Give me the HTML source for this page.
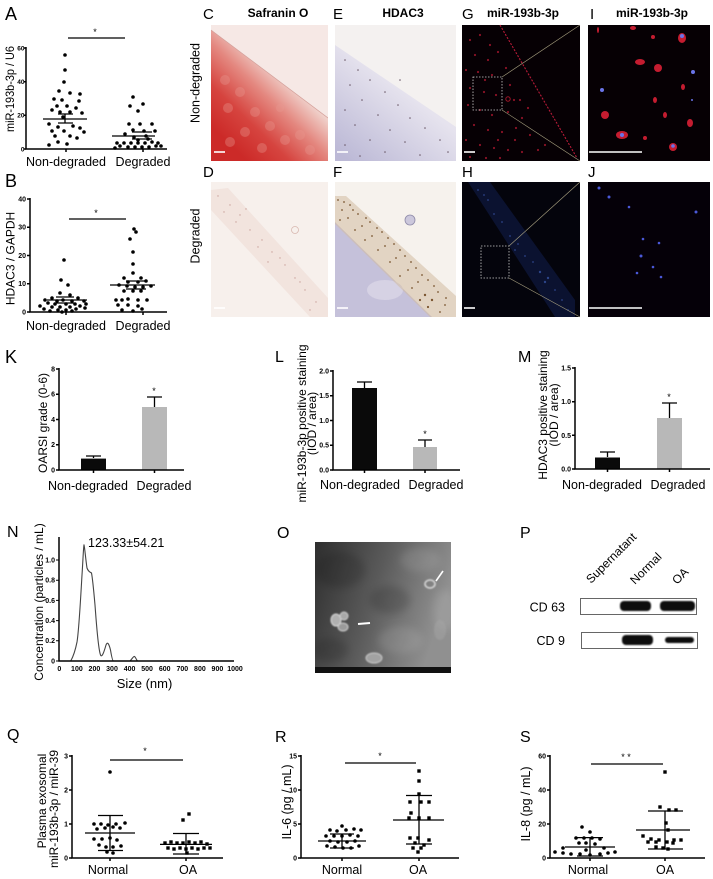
<!DOCTYPE html>
<html><head><meta charset="utf-8"><style>
html,body{margin:0;padding:0;background:#fff;}
svg{display:block;font-family:"Liberation Sans",Arial,sans-serif;}
.t{font-size:7px;font-weight:bold;text-anchor:end;}
.xl{font-size:12.5px;text-anchor:middle;}
.yl{font-size:12px;text-anchor:middle;}
.pl{font-size:16px;}
.pb{font-size:18px;}
.hd{font-size:12px;font-weight:bold;text-anchor:middle;}
.ax{stroke:#000;stroke-width:1.5;fill:none;}
.ln{stroke:#000;stroke-width:1.3;fill:none;}
</style></head><body>
<svg width="713" height="879" viewBox="0 0 713 879" xmlns="http://www.w3.org/2000/svg">
<defs>
<linearGradient id="gC" gradientUnits="userSpaceOnUse" x1="285" y1="78" x2="225" y2="140"><stop offset="0" stop-color="#f0d2cc"/><stop offset="0.3" stop-color="#e48880"/><stop offset="0.65" stop-color="#d6443f"/><stop offset="1" stop-color="#cc2a28"/></linearGradient>
<linearGradient id="gE" gradientUnits="userSpaceOnUse" x1="400" y1="88" x2="345" y2="158"><stop offset="0" stop-color="#e6e3ee"/><stop offset="1" stop-color="#bcb9d6"/></linearGradient>
<linearGradient id="gO" x1="0" y1="0" x2="1" y2="0.3"><stop offset="0" stop-color="#2e2e2e"/><stop offset="0.5" stop-color="#5a5a5a"/><stop offset="1" stop-color="#909090"/></linearGradient>
<filter id="bl"><feGaussianBlur stdDeviation="0.7"/></filter>
<filter id="bl2"><feGaussianBlur stdDeviation="4"/></filter>
<clipPath id="cC"><rect x="211" y="25" width="117" height="136"/></clipPath>
<clipPath id="cE"><rect x="335" y="25" width="121" height="136"/></clipPath>
<clipPath id="cD"><rect x="211" y="182" width="117" height="135"/></clipPath>
<clipPath id="cF"><rect x="335" y="182" width="121" height="135"/></clipPath>
<clipPath id="cH"><rect x="462" y="182" width="118" height="135"/></clipPath>
<clipPath id="cO"><rect x="315" y="542" width="136" height="131"/></clipPath>
</defs>

<!-- ============ Panel A ============ -->
<text class="pb" x="5" y="20">A</text>
<text transform="translate(14,89) rotate(-90)" style="font-size:12px;text-anchor:middle" textLength="86" lengthAdjust="spacingAndGlyphs">miR-193b-3p / U6</text>
<path class="ax" d="M26,47 V149 H167"/>
<path class="ax" d="M24,48H26M24,81.7H26M24,115.3H26M24,149H26M66,149V152M143,149V152"/>
<g style="font-size:6.5px;font-weight:bold;text-anchor:end">
<text x="24.5" y="50.5">60</text><text x="24.5" y="84">40</text><text x="24.5" y="117.5">20</text><text x="24.5" y="151.5">0</text>
</g>
<text class="xl" x="66" y="166">Non-degraded</text><text class="xl" x="143" y="166">Degraded</text>
<path class="ln" d="M68,38H125"/><text x="95" y="35" style="font-size:9px;text-anchor:middle">*</text>
<g fill="#000">
<circle cx="65" cy="55" r="1.8"/><circle cx="65" cy="70" r="1.8"/><circle cx="64" cy="82" r="1.8"/><circle cx="59" cy="91" r="1.8"/><circle cx="70" cy="93" r="1.8"/><circle cx="80" cy="94" r="1.8"/><circle cx="54" cy="99" r="1.8"/><circle cx="62" cy="100" r="1.8"/><circle cx="79" cy="101" r="1.8"/><circle cx="57" cy="106" r="1.8"/><circle cx="67" cy="106" r="1.8"/><circle cx="76" cy="108" r="1.8"/><circle cx="52" cy="110" r="1.8"/><circle cx="60" cy="112" r="1.8"/><circle cx="70" cy="112" r="1.8"/><circle cx="82" cy="113" r="1.8"/><circle cx="63" cy="117" r="1.8"/><circle cx="49" cy="124" r="1.8"/><circle cx="58" cy="127" r="1.8"/><circle cx="73" cy="126" r="1.8"/><circle cx="80" cy="128" r="1.8"/><circle cx="52" cy="131" r="1.8"/><circle cx="64" cy="131" r="1.8"/><circle cx="84" cy="132" r="1.8"/><circle cx="55" cy="136" r="1.8"/><circle cx="70" cy="136" r="1.8"/><circle cx="77" cy="138" r="1.8"/><circle cx="58" cy="142" r="1.8"/><circle cx="67" cy="144" r="1.8"/><circle cx="49" cy="145" r="1.8"/>
<circle cx="133" cy="97" r="1.8"/><circle cx="130" cy="106" r="1.8"/><circle cx="143" cy="104" r="1.8"/><circle cx="138" cy="111" r="1.8"/><circle cx="129" cy="124" r="1.8"/><circle cx="140" cy="124" r="1.8"/><circle cx="152" cy="124" r="1.8"/><circle cx="133" cy="130" r="1.8"/><circle cx="144" cy="131" r="1.8"/><circle cx="155" cy="131" r="1.8"/><circle cx="125" cy="134" r="1.8"/><circle cx="134" cy="137" r="1.8"/><circle cx="146" cy="136" r="1.8"/><circle cx="117" cy="143" r="1.8"/><circle cx="124" cy="143" r="1.8"/><circle cx="131" cy="143" r="1.8"/><circle cx="138" cy="143" r="1.8"/><circle cx="145" cy="143" r="1.8"/><circle cx="152" cy="142" r="1.8"/><circle cx="158" cy="143" r="1.8"/><circle cx="120" cy="146" r="1.8"/><circle cx="128" cy="147" r="1.8"/><circle cx="135" cy="147" r="1.8"/><circle cx="142" cy="147" r="1.8"/><circle cx="149" cy="147" r="1.8"/><circle cx="156" cy="146" r="1.8"/><circle cx="115" cy="148" r="1.8"/><circle cx="161" cy="146" r="1.8"/><circle cx="138" cy="140" r="1.8"/><circle cx="148" cy="139" r="1.8"/>
</g>
<path class="ln" d="M43,119H87M58,114H73M58,123H73M65,114V123M112,136H155M132,132H152M132,139H152"/>

<!-- ============ Panel B ============ -->
<text class="pb" x="5" y="187">B</text>
<text class="yl" transform="translate(14.5,258.5) rotate(-90)">HDAC3 / GAPDH</text>
<path class="ax" d="M30,198 V312 H167"/>
<path class="ax" d="M27,199H30M27,227.25H30M27,255.5H30M27,283.75H30M27,312H30M66,312V315M143,312V315"/>
<text class="t" x="26" y="201.5">40</text><text class="t" x="26" y="229.5">30</text><text class="t" x="26" y="258">20</text><text class="t" x="26" y="286">10</text><text class="t" x="26" y="314.5">0</text>
<text class="xl" x="66" y="330">Non-degraded</text><text class="xl" x="143" y="330">Degraded</text>
<path class="ln" d="M69,219H126"/><text x="96" y="216" style="font-size:9px;text-anchor:middle">*</text>
<g fill="#000">
<circle cx="64" cy="260" r="1.8"/><circle cx="61" cy="280" r="1.8"/><circle cx="68" cy="285" r="1.8"/><circle cx="60" cy="293" r="1.8"/><circle cx="70" cy="295" r="1.8"/><circle cx="52" cy="298" r="1.8"/><circle cx="78" cy="298" r="1.8"/><circle cx="45" cy="300" r="1.8"/><circle cx="57" cy="301" r="1.8"/><circle cx="63" cy="300" r="1.8"/><circle cx="72" cy="301" r="1.8"/><circle cx="84" cy="301" r="1.8"/><circle cx="48" cy="303" r="1.8"/><circle cx="55" cy="304" r="1.8"/><circle cx="66" cy="304" r="1.8"/><circle cx="75" cy="304" r="1.8"/><circle cx="86" cy="304" r="1.8"/><circle cx="40" cy="306" r="1.8"/><circle cx="52" cy="307" r="1.8"/><circle cx="60" cy="307" r="1.8"/><circle cx="70" cy="307" r="1.8"/><circle cx="80" cy="306" r="1.8"/><circle cx="44" cy="309" r="1.8"/><circle cx="58" cy="310" r="1.8"/><circle cx="66" cy="310" r="1.8"/><circle cx="76" cy="309" r="1.8"/><circle cx="85" cy="308" r="1.8"/><circle cx="50" cy="311" r="1.8"/><circle cx="62" cy="312" r="1.8"/><circle cx="72" cy="311" r="1.8"/>
<circle cx="134" cy="229" r="1.8"/><circle cx="136" cy="232" r="1.8"/><circle cx="130" cy="239" r="1.8"/><circle cx="133" cy="252" r="1.8"/><circle cx="133" cy="264" r="1.8"/><circle cx="133" cy="273" r="1.8"/><circle cx="124" cy="278" r="1.8"/><circle cx="141" cy="278" r="1.8"/><circle cx="128" cy="282" r="1.8"/><circle cx="138" cy="282" r="1.8"/><circle cx="146" cy="281" r="1.8"/><circle cx="119" cy="285" r="1.8"/><circle cx="127" cy="286" r="1.8"/><circle cx="135" cy="287" r="1.8"/><circle cx="143" cy="287" r="1.8"/><circle cx="151" cy="286" r="1.8"/><circle cx="124" cy="291" r="1.8"/><circle cx="133" cy="291" r="1.8"/><circle cx="141" cy="291" r="1.8"/><circle cx="116" cy="300" r="1.8"/><circle cx="122" cy="300" r="1.8"/><circle cx="128" cy="299" r="1.8"/><circle cx="138" cy="300" r="1.8"/><circle cx="147" cy="300" r="1.8"/><circle cx="118" cy="305" r="1.8"/><circle cx="128" cy="305" r="1.8"/><circle cx="138" cy="306" r="1.8"/><circle cx="122" cy="310" r="1.8"/><circle cx="133" cy="311" r="1.8"/><circle cx="142" cy="309" r="1.8"/>
</g>
<path class="ln" d="M47,300H87M56,297H74M56,303H74M110,285H155M126,281H146M126,289H146"/>

<!-- ============ Histology C-J ============ -->
<text x="203" y="19" style="font-size:15px">C</text><text x="333" y="19" style="font-size:15px">E</text><text x="462" y="19" style="font-size:15px">G</text><text x="590" y="19" style="font-size:15px">I</text>
<text x="203" y="177" style="font-size:15px">D</text><text x="333" y="177" style="font-size:15px">F</text><text x="462" y="177" style="font-size:15px">H</text><text x="588" y="177" style="font-size:15px">J</text>
<text class="hd" x="278" y="17">Safranin O</text><text class="hd" x="403" y="17">HDAC3</text><text class="hd" x="523" y="17">miR-193b-3p</text><text class="hd" x="652" y="17">miR-193b-3p</text>
<text transform="translate(199.5,83) rotate(-90)" style="font-size:12.5px;text-anchor:middle">Non-degraded</text>
<text transform="translate(199.5,236) rotate(-90)" style="font-size:12.5px;text-anchor:middle">Degraded</text>

<!-- C -->
<g clip-path="url(#cC)">
<rect x="211" y="25" width="117" height="136" fill="#f6e8e5"/>
<polygon points="211,30 328,118 328,161 211,161" fill="url(#gC)"/>
<g fill="#e99a92" opacity="0.35">
<circle cx="225" cy="80" r="5"/><circle cx="240" cy="92" r="5"/><circle cx="228" cy="108" r="5"/><circle cx="255" cy="112" r="5"/><circle cx="270" cy="126" r="5"/><circle cx="245" cy="132" r="5"/><circle cx="285" cy="140" r="5"/><circle cx="300" cy="135" r="5"/><circle cx="262" cy="148" r="5"/><circle cx="230" cy="142" r="5"/><circle cx="310" cy="150" r="5"/><circle cx="280" cy="108" r="4"/>
</g>
<line x1="211" y1="30" x2="328" y2="118" stroke="#d4a09a" stroke-width="0.7"/>
<line x1="214" y1="152" x2="225" y2="152" stroke="#fff" stroke-width="1.6"/>
</g>
<!-- E -->
<g clip-path="url(#cE)">
<rect x="335" y="25" width="121" height="136" fill="#f4f1f0"/>
<polygon points="335,45 456,127 456,161 335,161" fill="url(#gE)"/>
<g fill="#6a5868">
<circle cx="345" cy="60" r="0.8"/><circle cx="358" cy="70" r="0.8"/><circle cx="350" cy="85" r="0.8"/><circle cx="370" cy="80" r="0.8"/><circle cx="385" cy="92" r="0.8"/><circle cx="362" cy="100" r="0.8"/><circle cx="345" cy="110" r="0.8"/><circle cx="398" cy="105" r="0.8"/><circle cx="378" cy="115" r="0.8"/><circle cx="410" cy="118" r="0.8"/><circle cx="355" cy="125" r="0.8"/><circle cx="390" cy="130" r="0.8"/><circle cx="425" cy="128" r="0.8"/><circle cx="370" cy="140" r="0.8"/><circle cx="405" cy="142" r="0.8"/><circle cx="440" cy="140" r="0.8"/><circle cx="345" cy="145" r="0.8"/><circle cx="385" cy="152" r="0.8"/><circle cx="420" cy="155" r="0.8"/><circle cx="448" cy="152" r="0.8"/><circle cx="360" cy="156" r="0.8"/><circle cx="400" cy="80" r="0.8"/>
</g>
<line x1="337" y1="152" x2="348" y2="152" stroke="#fff" stroke-width="1.6"/>
</g>
<!-- G -->
<rect x="462" y="25" width="118" height="136" fill="#060004"/>
<g fill="#8a1226">
<circle cx="470" cy="40" r="1.1"/><circle cx="480" cy="35" r="1.1"/><circle cx="490" cy="45" r="1.1"/><circle cx="475" cy="55" r="1.1"/><circle cx="488" cy="60" r="1.1"/><circle cx="498" cy="52" r="1.1"/><circle cx="466" cy="70" r="1.1"/><circle cx="478" cy="72" r="1.1"/><circle cx="492" cy="75" r="1.1"/><circle cx="506" cy="68" r="1.1"/><circle cx="470" cy="88" r="1.1"/><circle cx="484" cy="92" r="1.1"/><circle cx="496" cy="95" r="1.1"/><circle cx="510" cy="85" r="1.1"/><circle cx="520" cy="100" r="1.1"/><circle cx="468" cy="105" r="1.1"/><circle cx="480" cy="110" r="1.1"/><circle cx="492" cy="115" r="1.1"/><circle cx="508" cy="112" r="1.1"/><circle cx="522" cy="118" r="1.1"/><circle cx="474" cy="125" r="1.1"/><circle cx="488" cy="130" r="1.1"/><circle cx="502" cy="132" r="1.1"/><circle cx="516" cy="128" r="1.1"/><circle cx="530" cy="135" r="1.1"/><circle cx="466" cy="140" r="1.1"/><circle cx="480" cy="145" r="1.1"/><circle cx="494" cy="148" r="1.1"/><circle cx="508" cy="150" r="1.1"/><circle cx="522" cy="152" r="1.1"/><circle cx="538" cy="150" r="1.1"/><circle cx="470" cy="157" r="1.1"/><circle cx="486" cy="158" r="1.1"/><circle cx="500" cy="158" r="1.1"/><circle cx="514" cy="100" r="1.1"/><circle cx="528" cy="108" r="1.1"/><circle cx="485" cy="80" r="1.1"/><circle cx="515" cy="140" r="1.1"/><circle cx="545" cy="145" r="1.1"/><circle cx="498" cy="140" r="1.1"/><circle cx="508" cy="99" r="2.2" fill="none" stroke="#a01428" stroke-width="1"/>
</g>
<line x1="500" y1="25" x2="577" y2="158" stroke="#b81a38" stroke-width="1.1" stroke-dasharray="2,1.5"/>
<rect x="473" y="77" width="29" height="33" fill="none" stroke="#ccc" stroke-width="0.8" stroke-dasharray="1.5,1.5"/>
<line x1="502" y1="77" x2="580" y2="25" stroke="#a8a080" stroke-width="0.6"/><line x1="502" y1="110" x2="580" y2="161" stroke="#a8a080" stroke-width="0.6"/>
<line x1="464" y1="152" x2="475" y2="152" stroke="#fff" stroke-width="1.6"/>
<!-- I -->
<rect x="588" y="25" width="122" height="136" fill="#060004"/>
<g fill="#c41c30">
<ellipse cx="633" cy="28" rx="3" ry="2"/><ellipse cx="653" cy="37" rx="2" ry="2"/><ellipse cx="682" cy="38" rx="4" ry="5"/><ellipse cx="640" cy="62" rx="5" ry="3"/><ellipse cx="658" cy="68" rx="4" ry="4"/><ellipse cx="683" cy="87" rx="2" ry="3"/><ellipse cx="655" cy="100" rx="2" ry="3"/><ellipse cx="605" cy="115" rx="4" ry="4"/><ellipse cx="665" cy="115" rx="2" ry="3"/><ellipse cx="690" cy="123" rx="3" ry="4"/><ellipse cx="622" cy="135" rx="6" ry="4"/><ellipse cx="645" cy="138" rx="2" ry="2"/><ellipse cx="673" cy="147" rx="4" ry="4"/><ellipse cx="598" cy="30" rx="1" ry="3"/>
</g>
<g fill="#6a74e8">
<circle cx="682" cy="36" r="2"/><circle cx="693" cy="72" r="2"/><circle cx="602" cy="90" r="2"/><circle cx="622" cy="135" r="2"/><circle cx="673" cy="146" r="1.8"/><circle cx="692" cy="100" r="1"/>
</g>
<line x1="589" y1="152" x2="642" y2="152" stroke="#fff" stroke-width="1.6"/>
<!-- D -->
<g clip-path="url(#cD)">
<rect x="211" y="182" width="117" height="135" fill="#f7f0ec"/>
<polygon points="211,190 228,188 328,298 328,317 310,317 211,210" fill="#efdcd6" opacity="0.6"/>
<g fill="#c9a09a">
<circle cx="218" cy="196" r="0.7"/><circle cx="230" cy="205" r="0.7"/><circle cx="240" cy="215" r="0.7"/><circle cx="250" cy="230" r="0.7"/><circle cx="262" cy="240" r="0.7"/><circle cx="272" cy="252" r="0.7"/><circle cx="285" cy="265" r="0.7"/><circle cx="295" cy="278" r="0.7"/><circle cx="305" cy="290" r="0.7"/><circle cx="316" cy="302" r="0.7"/><circle cx="236" cy="222" r="0.7"/><circle cx="258" cy="247" r="0.7"/><circle cx="280" cy="258" r="0.7"/><circle cx="300" cy="282" r="0.7"/><circle cx="224" cy="212" r="0.7"/><circle cx="268" cy="262" r="0.7"/><circle cx="310" cy="310" r="0.7"/><circle cx="246" cy="209" r="0.7"/>
</g>
<circle cx="295" cy="230" r="3.5" fill="none" stroke="#d8b8b0" stroke-width="0.8"/>
<line x1="214" y1="308" x2="225" y2="308" stroke="#fff" stroke-width="1.6"/>
</g>
<!-- F -->
<g clip-path="url(#cF)">
<rect x="335" y="182" width="121" height="135" fill="#f6f2ed"/>
<polygon points="335,222 432,317 335,317" fill="#c5c1da"/>
<ellipse cx="385" cy="290" rx="18" ry="10" fill="#d6d2e4"/>
<polygon points="335,196 346,196 456,296 456,317 430,317 335,224" fill="#d2bca0" opacity="0.55"/>
<g fill="#7a5530">
<circle cx="338" cy="200" r="0.9"/><circle cx="342" cy="210" r="0.9"/><circle cx="350" cy="205" r="0.9"/><circle cx="348" cy="218" r="0.9"/><circle cx="358" cy="214" r="0.9"/><circle cx="362" cy="226" r="0.9"/><circle cx="370" cy="222" r="0.9"/><circle cx="372" cy="236" r="0.9"/><circle cx="382" cy="232" r="0.9"/><circle cx="385" cy="246" r="0.9"/><circle cx="394" cy="244" r="0.9"/><circle cx="396" cy="258" r="0.9"/><circle cx="405" cy="256" r="0.9"/><circle cx="408" cy="270" r="0.9"/><circle cx="416" cy="268" r="0.9"/><circle cx="418" cy="282" r="0.9"/><circle cx="428" cy="280" r="0.9"/><circle cx="425" cy="295" r="1.2"/><circle cx="432" cy="300" r="1.2"/><circle cx="438" cy="292" r="0.9"/><circle cx="445" cy="305" r="0.9"/><circle cx="440" cy="312" r="0.9"/><circle cx="355" cy="230" r="0.9"/><circle cx="365" cy="240" r="0.9"/><circle cx="378" cy="250" r="0.9"/><circle cx="390" cy="262" r="0.9"/><circle cx="400" cy="276" r="0.9"/><circle cx="412" cy="288" r="0.9"/><circle cx="340" cy="220" r="0.9"/><circle cx="344" cy="202" r="0.9"/><circle cx="353" cy="210" r="0.9"/><circle cx="366" cy="218" r="0.9"/><circle cx="377" cy="228" r="0.9"/><circle cx="388" cy="238" r="0.9"/><circle cx="400" cy="250" r="0.9"/><circle cx="411" cy="262" r="0.9"/><circle cx="422" cy="275" r="0.9"/><circle cx="434" cy="286" r="0.9"/><circle cx="446" cy="298" r="0.9"/><circle cx="420" cy="300" r="1.1"/><circle cx="428" cy="307" r="1.1"/>
</g>
<circle cx="410" cy="220" r="5" fill="#ccc8dc" stroke="#8e8aa8" stroke-width="0.8"/>
<line x1="337" y1="308" x2="348" y2="308" stroke="#fff" stroke-width="1.6"/>
</g>
<!-- H -->
<g clip-path="url(#cH)">
<rect x="462" y="182" width="118" height="135" fill="#04040c"/>
<polygon points="468,182 490,182 575,300 575,317 555,317" fill="#0c1434" opacity="0.9"/>
<g fill="#2c4488">
<circle cx="478" cy="190" r="0.9"/><circle cx="488" cy="200" r="0.9"/><circle cx="494" cy="214" r="0.9"/><circle cx="502" cy="222" r="0.9"/><circle cx="510" cy="236" r="0.9"/><circle cx="518" cy="244" r="0.9"/><circle cx="525" cy="256" r="0.9"/><circle cx="533" cy="262" r="0.9"/><circle cx="540" cy="272" r="1.2"/><circle cx="548" cy="278" r="1.2"/><circle cx="555" cy="290" r="0.9"/><circle cx="562" cy="300" r="0.9"/><circle cx="568" cy="310" r="0.9"/><circle cx="484" cy="195" r="0.9"/><circle cx="515" cy="250" r="0.9"/><circle cx="545" cy="282" r="1.2"/>
</g>
</g>
<rect x="481" y="246" width="28" height="32" fill="none" stroke="#ccc" stroke-width="0.8" stroke-dasharray="1.5,1.5"/>
<line x1="509" y1="246" x2="580" y2="182" stroke="#a8a080" stroke-width="0.6"/><line x1="509" y1="278" x2="580" y2="317" stroke="#a8a080" stroke-width="0.6"/>
<line x1="464" y1="308" x2="475" y2="308" stroke="#fff" stroke-width="1.6"/>
<!-- J -->
<rect x="588" y="182" width="122" height="135" fill="#050008"/>
<g fill="#4a58d8">
<circle cx="599" cy="188" r="1.5"/><circle cx="609" cy="197" r="1.5"/><circle cx="629" cy="207" r="1.3"/><circle cx="696" cy="212" r="1.5"/><circle cx="659" cy="243" r="1.3"/><circle cx="643" cy="239" r="1.3"/><circle cx="641" cy="256" r="1.5"/><circle cx="661" cy="277" r="1.3"/><circle cx="637" cy="273" r="1.3"/><circle cx="653" cy="267" r="1.3"/>
</g>
<line x1="589" y1="308" x2="642" y2="308" stroke="#fff" stroke-width="1.6"/>

<!-- ============ Panel K ============ -->
<text class="pb" x="5" y="363">K</text>
<text class="yl" transform="translate(47,423) rotate(-90)">OARSI grade (0-6)</text>
<rect x="81" y="458.6" width="25" height="11.4" fill="#0a0a0a"/>
<rect x="142" y="407" width="25" height="63" fill="#b8b8b8"/>
<path class="ln" d="M93.5,458V456M86,456H101M154.5,407V397M147,397H162"/>
<text x="154" y="394" style="font-size:9px;text-anchor:middle">*</text>
<path class="ax" d="M59,368 V470 H184"/>
<path class="ax" d="M56,369H59M56,394.25H59M56,419.5H59M56,444.75H59M56,470H59M93.5,470V473M154.5,470V473"/>
<text class="t" x="55" y="371.5">8</text><text class="t" x="55" y="396.5">6</text><text class="t" x="55" y="422">4</text><text class="t" x="55" y="447">2</text><text class="t" x="55" y="472.5">0</text>
<text class="xl" x="88" y="490">Non-degraded</text><text class="xl" x="164" y="490">Degraded</text>

<!-- ============ Panel L ============ -->
<text class="pl" x="275" y="362">L</text>
<text class="yl" transform="translate(306,423.5) rotate(-90)">miR-193b-3p positive staining</text>
<text class="yl" transform="translate(316,423.5) rotate(-90)">(IOD / area)</text>
<rect x="352" y="388" width="25" height="82" fill="#0a0a0a"/>
<rect x="413" y="447" width="24" height="23" fill="#b8b8b8"/>
<path class="ln" d="M364.5,388V382M357,382H372M425,447V440M418,440H432"/>
<text x="425" y="437" style="font-size:9px;text-anchor:middle">*</text>
<path class="ax" d="M333,370 V470 H460"/>
<path class="ax" d="M330,371H333M330,395.75H333M330,420.5H333M330,445.25H333M330,470H333M364.5,470V473M425,470V473"/>
<text class="t" x="329" y="373.5">2.0</text><text class="t" x="329" y="398">1.5</text><text class="t" x="329" y="423">1.0</text><text class="t" x="329" y="447.5">0.5</text><text class="t" x="329" y="472.5">0.0</text>
<text class="xl" x="360" y="489">Non-degraded</text><text class="xl" x="436" y="489">Degraded</text>

<!-- ============ Panel M ============ -->
<text class="pl" x="518" y="362">M</text>
<text class="yl" transform="translate(547,415) rotate(-90)">HDAC3 positive staining</text>
<text class="yl" transform="translate(558,415) rotate(-90)">(IOD / area)</text>
<rect x="595" y="457.5" width="25" height="11.5" fill="#0a0a0a"/>
<rect x="657" y="418" width="25" height="51" fill="#b8b8b8"/>
<path class="ln" d="M607.5,457V452M600,452H615M669.5,418V403M662,403H677"/>
<text x="669" y="400" style="font-size:9px;text-anchor:middle">*</text>
<path class="ax" d="M575,367 V469 H710"/>
<path class="ax" d="M572,368H575M572,401.7H575M572,435.3H575M572,469H575M607.5,469V472M669.5,469V472"/>
<text class="t" x="571" y="370.5">1.5</text><text class="t" x="571" y="404">1.0</text><text class="t" x="571" y="438">0.5</text><text class="t" x="571" y="471.5">0.0</text>
<text class="xl" x="602" y="489">Non-degraded</text><text class="xl" x="678" y="489">Degraded</text>

<!-- ============ Panel N ============ -->
<text class="pl" x="7" y="537">N</text>
<text class="yl" transform="translate(43,602) rotate(-90)">Concentration (particles / mL)</text>
<path d="M59.3,661 L70.7,661 C73,657 75,652 77,642 C79,630 80.5,600 82,575 C83,560 83.5,546 84,545 C84.6,546 85.5,558 87,568 C88.5,572 90,572 91.5,573 C92.5,578 93.5,588 95,605 C96.5,625 98,648 100.5,655 C102,658 104,652 106,645 C107.5,641 109,644 110.5,650 C111.5,656 112.5,661 113.5,661 L130,661 C132,659 133.5,656 134.5,656.5 C135.5,657 136.5,660 137.5,661 L233,661" fill="none" stroke="#444" stroke-width="1.1"/>
<path class="ax" d="M59,537 V661 H234"/>
<path d="M56,560H59M56,580.2H59M56,600.4H59M56,620.6H59M56,640.8H59M56,661H59" stroke="#000" stroke-width="1"/>
<text class="t" x="55" y="562.5">1.0</text><text class="t" x="55" y="582.5">0.8</text><text class="t" x="55" y="603">0.6</text><text class="t" x="55" y="623">0.4</text><text class="t" x="55" y="643">0.2</text><text class="t" x="55" y="663.5">0</text>
<g style="font-size:7px;font-weight:bold;text-anchor:middle">
<text x="59.3" y="671">0</text><text x="76.9" y="671">100</text><text x="94.4" y="671">200</text><text x="112" y="671">300</text><text x="129.6" y="671">400</text><text x="147.1" y="671">500</text><text x="164.7" y="671">600</text><text x="182.3" y="671">700</text><text x="199.9" y="671">800</text><text x="217.4" y="671">900</text><text x="235" y="671">1000</text>
</g>
<text x="144.5" y="688" style="font-size:13px;text-anchor:middle">Size (nm)</text>
<text x="88" y="547" style="font-size:12.5px">123.33±54.21</text>

<!-- ============ Panel O ============ -->
<text class="pl" x="277" y="538">O</text>
<g clip-path="url(#cO)">
<rect x="315" y="542" width="136" height="131" fill="url(#gO)"/>
<g filter="url(#bl2)">
<g fill="#000" opacity="0.15">
<ellipse cx="340" cy="570" rx="25" ry="18"/><ellipse cx="390" cy="600" rx="20" ry="14"/><ellipse cx="330" cy="650" rx="18" ry="12"/>
</g>
<g fill="#fff" opacity="0.1">
<ellipse cx="420" cy="560" rx="20" ry="12"/><ellipse cx="400" cy="640" rx="22" ry="14"/><ellipse cx="445" cy="610" rx="12" ry="20"/>
</g>
</g>
<g filter="url(#bl)">
<ellipse cx="336" cy="620" rx="5" ry="6" fill="#b0b0b0" stroke="#d8d8d8" stroke-width="1"/>
<ellipse cx="344" cy="616" rx="4" ry="4" fill="#a8a8a8" stroke="#d0d0d0" stroke-width="1"/>
<ellipse cx="343" cy="627" rx="5" ry="4" fill="#9a9a9a" stroke="#cfcfcf" stroke-width="1"/>
<ellipse cx="430" cy="584" rx="5" ry="4" fill="none" stroke="#dcdcdc" stroke-width="1.5"/>
<ellipse cx="374" cy="658" rx="8" ry="5" fill="#a2a2a2" stroke="#c8c8c8" stroke-width="1"/>
<ellipse cx="440" cy="630" rx="6" ry="10" fill="#a8a8a8" opacity="0.4"/>
</g>
<line x1="358" y1="624" x2="370" y2="623" stroke="#fff" stroke-width="2"/>
<line x1="436" y1="581" x2="443" y2="571" stroke="#fff" stroke-width="1.6"/>
<rect x="315" y="667" width="136" height="6" fill="#111"/>
</g>

<!-- ============ Panel P ============ -->
<text class="pl" x="520" y="538">P</text>
<g style="font-size:12px">
<text transform="translate(591,584) rotate(-45)">Supernatant</text>
<text transform="translate(635,585) rotate(-45)">Normal</text>
<text transform="translate(677,585) rotate(-45)">OA</text>
</g>
<text x="565" y="611.5" style="font-size:12.5px;text-anchor:end">CD 63</text>
<text x="565" y="645" style="font-size:12.5px;text-anchor:end">CD 9</text>
<rect x="580.5" y="598.5" width="116" height="16" fill="#fff" stroke="#666" stroke-width="1"/>
<rect x="581.5" y="632.5" width="116" height="16" fill="#fff" stroke="#666" stroke-width="1"/>
<g filter="url(#bl)" fill="#111">
<rect x="620" y="601" width="31" height="10" rx="4"/>
<rect x="660" y="601" width="35" height="10" rx="4"/>
<rect x="622" y="635" width="31" height="10" rx="4"/>
<rect x="665" y="637" width="29" height="6" rx="3"/>
</g>

<!-- ============ Panel Q ============ -->
<text class="pl" x="7" y="740">Q</text>
<text class="yl" transform="translate(46,801) rotate(-90)">Plasma exosomal</text>
<text class="yl" transform="translate(58,809) rotate(-90)">miR-193b-3p / miR-39</text>
<path class="ax" d="M72,755 V858 H223"/>
<path class="ax" d="M69,756H72M69,790H72M69,824H72M69,858H72M110,858V861M186,858V861"/>
<text class="t" x="68" y="758.5">3</text><text class="t" x="68" y="792.5">2</text><text class="t" x="68" y="826.5">1</text><text class="t" x="68" y="860.5">0</text>
<text class="xl" x="108" y="874">Normal</text><text class="xl" x="188" y="874">OA</text>
<path class="ln" d="M110,760H183"/><text x="145" y="754" style="font-size:9px;text-anchor:middle">*</text>
<g fill="#000">
<circle cx="110" cy="772" r="1.8"/><circle cx="94" cy="824" r="1.8"/><circle cx="101" cy="824" r="1.8"/><circle cx="108" cy="825" r="1.8"/><circle cx="116" cy="824" r="1.8"/><circle cx="125" cy="823" r="1.8"/><circle cx="97" cy="829" r="1.8"/><circle cx="105" cy="828" r="1.8"/><circle cx="113" cy="827" r="1.8"/><circle cx="120" cy="828" r="1.8"/><circle cx="94" cy="839" r="1.8"/><circle cx="102" cy="839" r="1.8"/><circle cx="110" cy="838" r="1.8"/><circle cx="117" cy="840" r="1.8"/><circle cx="99" cy="845" r="1.8"/><circle cx="106" cy="847" r="1.8"/><circle cx="113" cy="847" r="1.8"/><circle cx="121" cy="846" r="1.8"/><circle cx="107" cy="852" r="1.8"/><circle cx="113" cy="853" r="1.8"/>
</g>
<g fill="#000">
<rect x="181.3" y="818.3" width="3.4" height="3.4"/><rect x="187.3" y="812.3" width="3.4" height="3.4"/><rect x="163.3" y="841.3" width="3.4" height="3.4"/><rect x="169.3" y="840.3" width="3.4" height="3.4"/><rect x="175.3" y="841.3" width="3.4" height="3.4"/><rect x="181.3" y="841.3" width="3.4" height="3.4"/><rect x="187.3" y="840.3" width="3.4" height="3.4"/><rect x="193.3" y="841.3" width="3.4" height="3.4"/><rect x="199.3" y="840.3" width="3.4" height="3.4"/><rect x="205.3" y="842.3" width="3.4" height="3.4"/><rect x="166.3" y="846.3" width="3.4" height="3.4"/><rect x="172.3" y="847.3" width="3.4" height="3.4"/><rect x="178.3" y="846.3" width="3.4" height="3.4"/><rect x="184.3" y="847.3" width="3.4" height="3.4"/><rect x="190.3" y="846.3" width="3.4" height="3.4"/><rect x="196.3" y="847.3" width="3.4" height="3.4"/><rect x="202.3" y="846.3" width="3.4" height="3.4"/><rect x="208.3" y="846.3" width="3.4" height="3.4"/><rect x="185.3" y="851.3" width="3.4" height="3.4"/>
</g>
<path class="ln" d="M85,833H135M98,815.5H123M98,850.5H123M110,815.5V850.5M160,844.4H212M173,833.5H199M173,854H199M186,833.5V854"/>

<!-- ============ Panel R ============ -->
<text class="pl" x="275" y="742">R</text>
<text transform="translate(291,802) rotate(-90)" style="font-size:12.5px;text-anchor:middle">IL-6 (pg / mL)</text>
<path class="ax" d="M301,755 V858 H459"/>
<path class="ax" d="M298,756H301M298,790H301M298,824H301M298,858H301M342,858V861M419,858V861"/>
<text class="t" x="297" y="758.5">15</text><text class="t" x="297" y="792.5">10</text><text class="t" x="297" y="826.5">5</text><text class="t" x="297" y="860.5">0</text>
<text class="xl" x="342" y="874">Normal</text><text class="xl" x="418" y="874">OA</text>
<path class="ln" d="M345,763H416"/><text x="380" y="759" style="font-size:9px;text-anchor:middle">*</text>
<g fill="#000">
<circle cx="342" cy="826" r="1.8"/><circle cx="330" cy="830" r="1.8"/><circle cx="337" cy="831" r="1.8"/><circle cx="346" cy="830" r="1.8"/><circle cx="354" cy="829" r="1.8"/><circle cx="361" cy="830" r="1.8"/><circle cx="326" cy="836" r="1.8"/><circle cx="334" cy="836" r="1.8"/><circle cx="342" cy="836" r="1.8"/><circle cx="350" cy="835" r="1.8"/><circle cx="358" cy="836" r="1.8"/><circle cx="330" cy="841" r="1.8"/><circle cx="338" cy="842" r="1.8"/><circle cx="347" cy="842" r="1.8"/><circle cx="355" cy="841" r="1.8"/><circle cx="327" cy="846" r="1.8"/><circle cx="335" cy="847" r="1.8"/><circle cx="343" cy="848" r="1.8"/><circle cx="351" cy="848" r="1.8"/><circle cx="359" cy="846" r="1.8"/>
</g>
<g fill="#000">
<rect x="417.3" y="769.3" width="3.4" height="3.4"/><rect x="417.3" y="779.3" width="3.4" height="3.4"/><rect x="417.3" y="792.3" width="3.4" height="3.4"/><rect x="408.3" y="800.3" width="3.4" height="3.4"/><rect x="419.3" y="800.3" width="3.4" height="3.4"/><rect x="427.3" y="800.3" width="3.4" height="3.4"/><rect x="409.3" y="811.3" width="3.4" height="3.4"/><rect x="427.3" y="816.3" width="3.4" height="3.4"/><rect x="417.3" y="816.3" width="3.4" height="3.4"/><rect x="407.3" y="816.3" width="3.4" height="3.4"/><rect x="408.3" y="836.3" width="3.4" height="3.4"/><rect x="416.3" y="836.3" width="3.4" height="3.4"/><rect x="427.3" y="838.3" width="3.4" height="3.4"/><rect x="413.3" y="841.3" width="3.4" height="3.4"/><rect x="422.3" y="843.3" width="3.4" height="3.4"/><rect x="411.3" y="846.3" width="3.4" height="3.4"/><rect x="419.3" y="846.3" width="3.4" height="3.4"/><rect x="416.3" y="850.3" width="3.4" height="3.4"/>
</g>
<path class="ln" d="M318,841H366M330,834H354M330,848H354M342,834V848M393,820H444M406,795.5H432M406,844H432M419,795.5V844"/>

<!-- ============ Panel S ============ -->
<text class="pl" x="520" y="742">S</text>
<text transform="translate(530,804) rotate(-90)" style="font-size:12.5px;text-anchor:middle">IL-8 (pg / mL)</text>
<path class="ax" d="M550,755 V858 H705"/>
<path class="ax" d="M547,756H550M547,790H550M547,824H550M547,858H550M590,858V861M665,858V861"/>
<text class="t" x="546" y="758.5">60</text><text class="t" x="546" y="792.5">40</text><text class="t" x="546" y="826.5">20</text><text class="t" x="546" y="860.5">0</text>
<text class="xl" x="588" y="874">Normal</text><text class="xl" x="665" y="874">OA</text>
<path class="ln" d="M591,764H663"/><text x="626" y="760" style="font-size:9px;text-anchor:middle">* *</text>
<g fill="#000">
<circle cx="582" cy="827" r="1.8"/><circle cx="590" cy="832" r="1.8"/><circle cx="576" cy="838" r="1.8"/><circle cx="584" cy="838" r="1.8"/><circle cx="592" cy="838" r="1.8"/><circle cx="600" cy="839" r="1.8"/><circle cx="579" cy="843" r="1.8"/><circle cx="586" cy="843" r="1.8"/><circle cx="595" cy="844" r="1.8"/><circle cx="563" cy="848" r="1.8"/><circle cx="604" cy="848" r="1.8"/><circle cx="555" cy="852" r="1.8"/><circle cx="563" cy="853" r="1.8"/><circle cx="571" cy="854" r="1.8"/><circle cx="580" cy="854" r="1.8"/><circle cx="590" cy="855" r="1.8"/><circle cx="600" cy="854" r="1.8"/><circle cx="608" cy="853" r="1.8"/><circle cx="615" cy="852" r="1.8"/><circle cx="586" cy="850" r="1.8"/>
</g>
<g fill="#000">
<rect x="663.3" y="770.3" width="3.4" height="3.4"/><rect x="658.3" y="805.3" width="3.4" height="3.4"/><rect x="667.3" y="808.3" width="3.4" height="3.4"/><rect x="674.3" y="808.3" width="3.4" height="3.4"/><rect x="664.3" y="821.3" width="3.4" height="3.4"/><rect x="666.3" y="828.3" width="3.4" height="3.4"/><rect x="641.3" y="834.3" width="3.4" height="3.4"/><rect x="649.3" y="837.3" width="3.4" height="3.4"/><rect x="657.3" y="838.3" width="3.4" height="3.4"/><rect x="672.3" y="838.3" width="3.4" height="3.4"/><rect x="679.3" y="838.3" width="3.4" height="3.4"/><rect x="646.3" y="840.3" width="3.4" height="3.4"/><rect x="654.3" y="840.3" width="3.4" height="3.4"/><rect x="665.3" y="840.3" width="3.4" height="3.4"/><rect x="671.3" y="841.3" width="3.4" height="3.4"/><rect x="654.3" y="845.3" width="3.4" height="3.4"/><rect x="661.3" y="846.3" width="3.4" height="3.4"/><rect x="666.3" y="847.3" width="3.4" height="3.4"/>
</g>
<path class="ln" d="M565,847H615M577,837.6H603M577,856H603M590,837.6V856M636,830H690M648,811H683M648,849H683M665,811V849"/>
</svg>
</body></html>
